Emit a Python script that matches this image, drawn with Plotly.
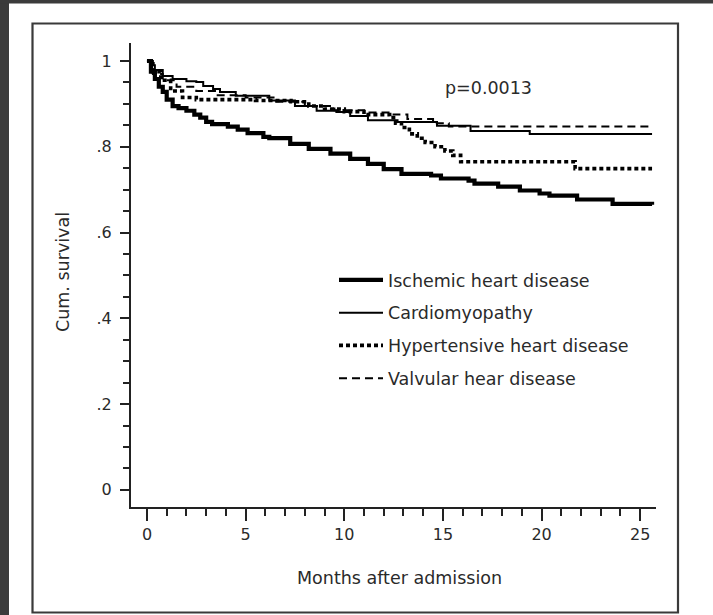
import plotly.graph_objects as go

# ---- data ----
ihd_months = [0, 0.2, 0.4, 0.6, 0.8, 1.0, 1.3, 1.6, 2.0, 2.4, 2.7, 3.0, 3.3, 4.1, 4.6, 5.1, 5.9, 6.2,
              7.26, 8.2, 9.3, 10.3, 11.2, 12.0, 12.9, 14.4, 14.9, 16.3, 16.6, 17.8, 18.9, 19.9, 20.4,
              21.8, 23.6, 25.6]
ihd_surv = [1.0, 0.975, 0.958, 0.94, 0.928, 0.91, 0.895, 0.89, 0.884, 0.875, 0.868, 0.858, 0.853, 0.847,
            0.84, 0.832, 0.823, 0.82, 0.807, 0.795, 0.784, 0.772, 0.76, 0.748, 0.737, 0.733, 0.726,
            0.721, 0.714, 0.707, 0.698, 0.691, 0.686, 0.677, 0.667, 0.665]

cmp_months = [0, 0.2, 0.4, 0.8, 1.3, 2.0, 2.5, 2.85, 3.35, 3.7, 4.5, 6.2, 7.5, 8.6, 9.6, 10.3, 11.2,
              12.7, 14.7, 16.4, 19.4, 25.6]
cmp_surv = [1.0, 0.99, 0.979, 0.965, 0.958, 0.953, 0.951, 0.942, 0.935, 0.928, 0.919, 0.908, 0.895,
            0.884, 0.881, 0.872, 0.862, 0.858, 0.849, 0.837, 0.830, 0.830]

hhd_months = [0, 0.3, 0.7, 1.2, 1.8, 2.5, 5.5, 7.3, 8.2, 9.0, 10.0, 11.0, 12.3, 12.6, 12.9, 13.3,
              13.7, 14.1, 14.6, 15.1, 15.5, 15.9, 21.7, 25.6]
hhd_surv = [1.0, 0.975, 0.955, 0.93, 0.915, 0.91, 0.908, 0.905, 0.895, 0.888, 0.882, 0.875, 0.868,
            0.855, 0.845, 0.83, 0.82, 0.81, 0.80, 0.79, 0.78, 0.765, 0.749, 0.749]

vhd_months = [0, 0.3, 0.8, 1.5, 2.5, 3.5, 5.0, 6.5, 8.0, 9.5, 11.0, 12.5, 13.2, 14.5, 15.3, 25.6]
vhd_surv = [1.0, 0.97, 0.955, 0.94, 0.93, 0.92, 0.915, 0.905, 0.895, 0.885, 0.88, 0.875, 0.865,
            0.855, 0.847, 0.847]

series_names = ["Ischemic heart disease", "Cardiomyopathy",
                "Hypertensive heart disease", "Valvular hear disease"]
x_ticks = [0, 5, 10, 15, 20, 25]
y_ticks = [0, 0.2, 0.4, 0.6, 0.8, 1.0]
y_tick_labels = ["0", ".2", ".4", ".6", ".8", "1"]
p_text = "p=0.0013"

FONT = "DejaVu Sans"
TXT = "#2a2a2a"

fig = go.Figure()
styles = [
    dict(width=4.2, dash="solid"),
    dict(width=2, dash="solid"),
    dict(width=3.6, dash="4px,3px"),
    dict(width=2, dash="8px,5px"),
]
data = [(ihd_months, ihd_surv), (cmp_months, cmp_surv), (hhd_months, hhd_surv), (vhd_months, vhd_surv)]
for i, ((xs, ys), name, st) in enumerate(zip(data, series_names, styles)):
    fig.add_trace(go.Scatter(x=xs, y=ys, mode="lines", name=name, legendgroup=str(i),
                             line=dict(color="black", width=st["width"], dash=st["dash"], shape="hv")))

# plot area in pixels
L, R, T, B = 131, 656, 43, 507
W, H = 713, 615
pw, ph = R - L, B - T

def px_x(x):
    return (x - L) / pw

def px_y(y):
    return (B - y) / ph

shapes = [
    dict(type="rect", xref="paper", yref="paper", x0=px_x(0), x1=px_x(9), y0=px_y(615), y1=px_y(0),
         fillcolor="#3b3b3b", line=dict(width=0), layer="below"),
    dict(type="rect", xref="paper", yref="paper", x0=px_x(0), x1=px_x(713), y0=px_y(3.5), y1=px_y(0),
         fillcolor="#3b3b3b", line=dict(width=0), layer="below"),
    dict(type="rect", xref="paper", yref="paper", x0=px_x(32.5), x1=px_x(678), y0=px_y(612.5), y1=px_y(23.5),
         line=dict(color="#3a3a3a", width=2.2), layer="below"),
]

fig.update_layout(
    width=W, height=H,
    margin=dict(l=L, r=W - R, t=T, b=H - B),
    paper_bgcolor="white", plot_bgcolor="white",
    font=dict(family=FONT, color=TXT, size=15),
    showlegend=True,
    legend=dict(x=px_x(334), y=px_y(262), xanchor="left", yanchor="top",
                bgcolor="rgba(0,0,0,0)", font=dict(size=17.5, family=FONT, color=TXT),
                tracegroupgap=7, itemwidth=44),
    shapes=shapes,
    xaxis=dict(range=[-0.81, 25.8], tickvals=x_ticks, ticks="outside", ticklen=12, tickwidth=2,
               tickcolor="#222", showline=True, linewidth=2, linecolor="#222", showgrid=False,
               zeroline=False, tickfont=dict(size=16, family=FONT, color=TXT),
               minor=dict(dtick=1, ticks="outside", ticklen=7, tickwidth=2, tickcolor="#222", showgrid=False)),
    yaxis=dict(range=[-0.04, 1.042], tickvals=y_ticks, ticktext=y_tick_labels, ticks="outside", ticklen=9,
               tickwidth=2, tickcolor="#222", showline=True, linewidth=2, linecolor="#222", showgrid=False,
               zeroline=False, tickfont=dict(size=16, family=FONT, color=TXT), ticklabelstandoff=5,
               minor=dict(dtick=0.05, ticks="outside", ticklen=6, tickwidth=2, tickcolor="#222", showgrid=False)),
    annotations=[
        dict(text=p_text, xref="paper", yref="paper", x=px_x(488), y=px_y(88), showarrow=False,
             xanchor="center", yanchor="middle", font=dict(size=17.5, family=FONT, color=TXT)),
        dict(text="Months after admission", xref="paper", yref="paper", x=px_x(399), y=px_y(578),
             xanchor="center", yanchor="middle",
             showarrow=False, font=dict(size=17.5, family=FONT, color=TXT)),
        dict(text="Cum. survival", xref="paper", yref="paper", x=px_x(63), y=px_y(272), textangle=-90,
             xanchor="center", yanchor="middle",
             showarrow=False, font=dict(size=17.5, family=FONT, color=TXT)),
    ],
)

fig.write_html("out.html")
